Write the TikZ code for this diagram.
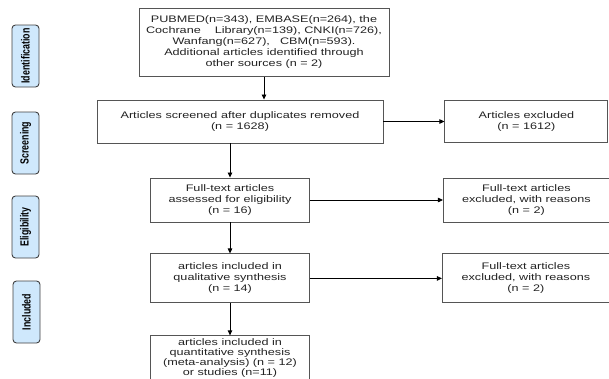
\documentclass[tikz,border=0pt]{standalone}
\usepackage{fontspec}
\setmainfont{Liberation Sans}[FakeStretch=1.33]
\newfontfamily\sidefont{Liberation Sans}[FakeStretch=0.75]
\usetikzlibrary{positioning,arrows.meta}
\definecolor{stagefill}{RGB}{207,232,252}
\definecolor{boxline}{RGB}{85,85,85}
\definecolor{txt}{RGB}{35,35,35}

\begin{document}
\begin{tikzpicture}[x=1pt,y=-1pt,
    rec/.style={draw=boxline, line width=0.9pt, align=center, inner sep=2pt,
        text=txt, font=\fontsize{9.5}{11}\selectfont},
    stage/.style={draw=black!75, fill=stagefill, rounded corners=3.5pt, line width=0.9pt,
        minimum width=62pt, minimum height=27pt, rotate=90, inner sep=1pt,
        font=\sidefont\bfseries\fontsize{11.8}{12}\selectfont},
    arr/.style={-{Triangle[length=5pt,width=4.5pt]}, line width=0.8pt}]
    \path[use as bounding box, clip] (0,0) rectangle (609,378);

    \node [stage](lab1) at (25.5,56){Identification};
    \node [stage](lab2) at (25.5,143){Screening};
    \node [stage](lab3) at (25.5,227){Eligibility};
    \node [stage](lab4) at (26.5,312){Included};

    \node [rec, minimum width=250pt, minimum height=68pt](id_n) at (264,42.5)
        {PUBMED(n=343), EMBASE(n=264), the\\
         Cochrane\hspace{14pt}Library(n=139), CNKI(n=726),\\
         Wanfang(n=627),\hspace{10pt}CBM(n=593).\\
         Additional articles identified through\\
         other sources (n = 2)};
    \node [rec, minimum width=286pt, minimum height=43pt](scr_n) at (240,121.5)
        {Articles screened after duplicates removed\\(n = 1628)};
    \draw [arr] (id_n.south) -- (id_n.south |- scr_n.north);

    \node [rec, minimum width=163pt, minimum height=42pt, right=61pt of scr_n](ex1)
        {Articles excluded\\(n = 1612)};
    \draw [arr] (scr_n.east) -- (ex1.west |- scr_n.east);

    \node [rec, minimum width=159pt, minimum height=44pt](elig_n) at (230,200)
        {Full-text articles\\assessed for eligibility\\(n = 16)};
    \draw [arr] (elig_n.north |- scr_n.south) -- (elig_n.north);

    \node [rec, minimum width=166pt, minimum height=44pt, right=133pt of elig_n](ex2)
        {Full-text articles\\excluded, with reasons\\(n = 2)};
    \draw [arr] (elig_n.east) -- (ex2.west);

    \node [rec, minimum width=159pt, minimum height=49pt, below=31pt of elig_n](incl_n)
        {articles included in\\qualitative synthesis\\(n = 14)};
    \draw [arr] (elig_n) -- (incl_n);

    \node [rec, minimum width=167pt, minimum height=49pt, right=132pt of incl_n](ex3)
        {Full-text articles\\excluded, with reasons\\(n = 2)};
    \draw [arr] (incl_n.east) -- (ex3.west);

    \node [rec, minimum width=159pt, minimum height=45pt, below=32pt of incl_n,
        font=\fontsize{9.5}{10}\selectfont](quant_n)
        {articles included in\\quantitative synthesis\\(meta-analysis) (n = 12)\\or studies (n=11)};
    \draw [arr] (incl_n) -- (quant_n);

\end{tikzpicture}
\end{document}
